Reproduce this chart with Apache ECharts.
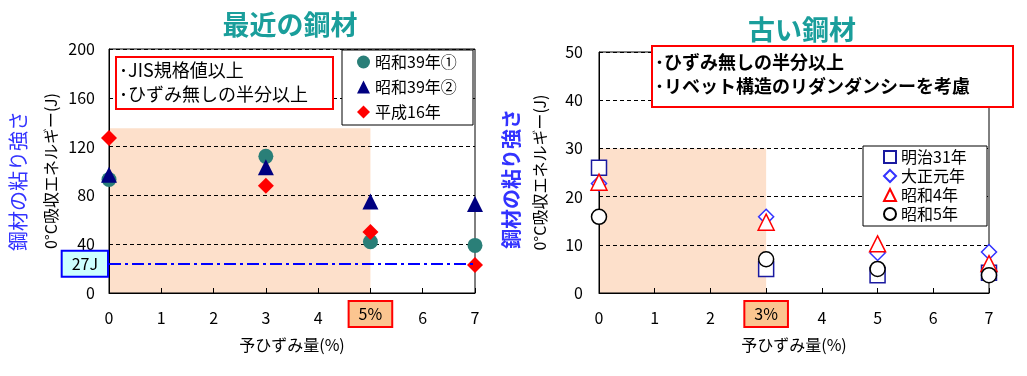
<!DOCTYPE html>
<html><head><meta charset="utf-8">
<script src="https://cdn.jsdelivr.net/npm/echarts@6/dist/echarts.min.js"></script>
<style>html,body{margin:0;padding:0;background:#fff}#c{width:1027px;height:376px}</style>
</head><body><div id="c"></div>
<script>
// ---- data ----
const xValues = [0, 3, 5, 7];
const recentNames = ['昭和39年①', '昭和39年②', '平成16年'];
const showa39a = [93, 112, 42, 39];
const showa39b = [97, 103, 75, 73];
const heisei16 = [127, 88, 50, 23];
const oldNames = ['明治31年', '大正元年', '昭和4年', '昭和5年'];
const meiji31 = [26, 5.0, 3.7, 4.2];
const taisho1 = [22.7, 15.8, 8.3, 8.5];
const showa4 = [23, 14.7, 10.2, 6.1];
const showa5 = [15.8, 7.0, 5.0, 3.7];
const leftYTicks = {min: 0, max: 200, interval: 40};
const rightYTicks = {min: 0, max: 50, interval: 10};
const leftLimitX = 5, leftLimitY = 135;   // shaded region (recent steel)
const rightLimitX = 3, rightLimitY = 30;  // shaded region (old steel)
const jLine = 24; const jLabel = '27J';
const leftTitle = '最近の鋼材', rightTitle = '古い鋼材';
const xName = '予ひずみ量(%)', yName = '0°C吸収エネルギー(J)', sideText = '鋼材の粘り強さ';
const leftNotes = ['･JIS規格値以上', '･ひずみ無しの半分以上'];
const rightNotes = ['･ひずみ無しの半分以上', '･リベット構造のリダンダンシーを考慮'];

const FONT = '"Noto Sans CJK JP", "Noto Sans", sans-serif';
const pts = arr => arr.map((v, i) => [xValues[i], v]);

function xAxis(idx, hl) {
  return {
    type: 'value', gridIndex: idx, min: 0, max: 7, interval: 1, z: 1,
    axisLine: {show: true, onZero: false, lineStyle: {color: '#000', width: 1}},
    axisTick: {show: true, inside: true, length: 5, lineStyle: {color: '#000'}},
    splitLine: {show: false},
    axisLabel: {
      margin: 11, fontFamily: FONT,
      formatter: v => v === hl ? '{h|' + v + '%}' : '{n|' + v + '}',
      rich: {
        n: {fontSize: 16, color: '#000', fontFamily: FONT, lineHeight: 28, height: 28},
        h: {fontSize: 16, color: '#000', fontFamily: FONT, backgroundColor: '#fbc590',
            borderColor: '#ff0000', borderWidth: 2, padding: [4, 9], lineHeight: 20}
      }
    },
    name: xName, nameLocation: 'middle', nameGap: 37,
    nameTextStyle: {fontSize: 16, color: '#000', fontFamily: FONT}
  };
}
function yAxis(idx, t, gap, nameGap) {
  return {
    type: 'value', gridIndex: idx, min: t.min, max: t.max, interval: t.interval, z: 1,
    axisLine: {show: true, lineStyle: {color: '#000', width: 1}},
    axisTick: {show: true, inside: true, length: 4, lineStyle: {color: '#000'}},
    splitLine: {show: true, lineStyle: {color: '#000', type: [4, 3], width: 1}},
    axisLabel: {fontSize: 16, color: '#000', margin: gap, fontFamily: FONT},
    name: yName, nameLocation: 'middle', nameGap: nameGap, nameRotate: 90,
    nameTextStyle: {fontSize: 16, color: '#000', fontFamily: FONT}
  };
}
function sc(name, idx, data, symbol, size, style, z) {
  return {type: 'scatter', name, xAxisIndex: idx, yAxisIndex: idx, data: pts(data),
          symbol, symbolSize: size, itemStyle: Object.assign({opacity: 1}, style), z: z || 3, silent: true};
}
function shade(idx, x1, y1) {
  return {type: 'line', xAxisIndex: idx, yAxisIndex: idx, data: [[0, 0]], symbol: 'none',
          lineStyle: {opacity: 0}, z: 0, silent: true,
          markArea: {silent: true, z: -1, itemStyle: {color: '#fde0cb', opacity: 1},
                     data: [[{xAxis: 0, yAxis: 0}, {xAxis: x1, yAxis: y1}]]}};
}
function noteBox(x, y, w, h, lines, bold, lineY) {
  const els = [{type: 'rect', z: 100, shape: {x, y, width: w, height: h},
                style: {fill: '#fff', stroke: '#ff0000', lineWidth: 2}}];
  lines.forEach((t, i) => els.push({type: 'text', z: 101, x: x + 3, y: lineY[i],
    style: {text: t, fontSize: 18, fontWeight: bold ? 'bold' : 'normal', fontFamily: FONT,
            fill: '#000', textVerticalAlign: 'middle'}}));
  return els;
}

const chart = echarts.init(document.getElementById('c'), null, {renderer: 'canvas'});
chart.setOption({
  animation: false,
  backgroundColor: '#fff',
  textStyle: {fontFamily: FONT},
  grid: [
    {left: 109, top: 49, width: 366, height: 244, show: true, borderColor: '#000', borderWidth: 1, backgroundColor: 'transparent'},
    {left: 599, top: 52, width: 390, height: 241, show: true, borderColor: '#000', borderWidth: 1, backgroundColor: 'transparent'}
  ],
  xAxis: [xAxis(0, leftLimitX), xAxis(1, rightLimitX)],
  yAxis: [yAxis(0, leftYTicks, 14, 50), yAxis(1, rightYTicks, 16, 51)],
  legend: [
    {orient: 'vertical', left: 357, top: 54, padding: 0, itemGap: 9, itemWidth: 13, itemHeight: 13,
     itemTextGap: 3, z: 200, selectedMode: false,
     textStyle: {fontSize: 16, color: '#000', fontFamily: FONT},
     data: [{name: recentNames[0], icon: 'circle'}, {name: recentNames[1], icon: 'triangle'},
            {name: recentNames[2], icon: 'diamond'}]},
    {orient: 'vertical', left: 883, top: 149, padding: 0, itemGap: 3, itemWidth: 12, itemHeight: 12,
     itemTextGap: 3, z: 200, selectedMode: false,
     textStyle: {fontSize: 16, color: '#000', fontFamily: FONT},
     data: [{name: oldNames[0], icon: 'rect'}, {name: oldNames[1], icon: 'diamond'},
            {name: oldNames[2], icon: 'triangle'}, {name: oldNames[3], icon: 'circle'}]}
  ],
  series: [
    shade(0, leftLimitX, leftLimitY),
    shade(1, rightLimitX, rightLimitY),
    {type: 'line', xAxisIndex: 0, yAxisIndex: 0, data: [[0, 0]], symbol: 'none', lineStyle: {opacity: 0},
     z: 2, silent: true,
     markLine: {silent: true, symbol: 'none',
       lineStyle: {color: '#0000ff', width: 2, type: [12, 4, 3, 4]},
       label: {show: true, position: 'start', distance: 2, formatter: jLabel, fontSize: 16, color: '#000',
               fontFamily: FONT, backgroundColor: '#ccffff', borderColor: '#0000ff', borderWidth: 2,
               padding: [4, 9]},
       data: [{yAxis: jLine}]}},
    sc(recentNames[0], 0, showa39a, 'circle', 15, {color: '#2a7f78'}),
    sc(recentNames[1], 0, showa39b, 'triangle', 16, {color: '#000080'}),
    sc(recentNames[2], 0, heisei16, 'diamond', 16, {color: '#ff0000'}),
    sc(oldNames[0], 1, meiji31, 'rect', 15, {color: '#fff', borderColor: '#1a1aa0', borderWidth: 1.5}),
    sc(oldNames[1], 1, taisho1, 'diamond', 15, {color: '#fff', borderColor: '#3333ff', borderWidth: 1.5}),
    sc(oldNames[2], 1, showa4, 'triangle', 16, {color: '#fff', borderColor: '#ff0000', borderWidth: 1.5}),
    sc(oldNames[3], 1, showa5, 'circle', 15, {color: '#fff', borderColor: '#000', borderWidth: 1.5})
  ],
  graphic: [
    {type: 'text', x: 290, y: 25, z: 100, style: {text: leftTitle, fontSize: 27, fontWeight: 'bold',
      fill: '#1a9e9b', fontFamily: FONT, textAlign: 'center', textVerticalAlign: 'middle'}},
    {type: 'text', x: 802, y: 30, z: 100, style: {text: rightTitle, fontSize: 27, fontWeight: 'bold',
      fill: '#1a9e9b', fontFamily: FONT, textAlign: 'center', textVerticalAlign: 'middle'}},
    {type: 'text', x: 18, y: 181, rotation: Math.PI / 2, z: 100, style: {text: sideText, fontSize: 20,
      fill: '#3333ff', fontFamily: FONT, textAlign: 'center', textVerticalAlign: 'middle'}},
    {type: 'text', x: 511, y: 179, rotation: Math.PI / 2, z: 100, style: {text: sideText, fontSize: 20,
      fontWeight: 'bold', fill: '#3333ff', fontFamily: FONT, textAlign: 'center', textVerticalAlign: 'middle'}},
    ...noteBox(116, 57, 217, 52, leftNotes, false, [70, 94]),
    ...noteBox(652, 46, 361, 61, rightNotes, true, [62, 86]),
    {type: 'rect', z: 100, shape: {x: 342, y: 50, width: 131, height: 75}, style: {fill: '#fff', stroke: '#000', lineWidth: 1}},
    {type: 'rect', z: 100, shape: {x: 863, y: 146, width: 124, height: 80}, style: {fill: '#fff', stroke: '#000', lineWidth: 1}}
  ]
});
</script></body></html>
